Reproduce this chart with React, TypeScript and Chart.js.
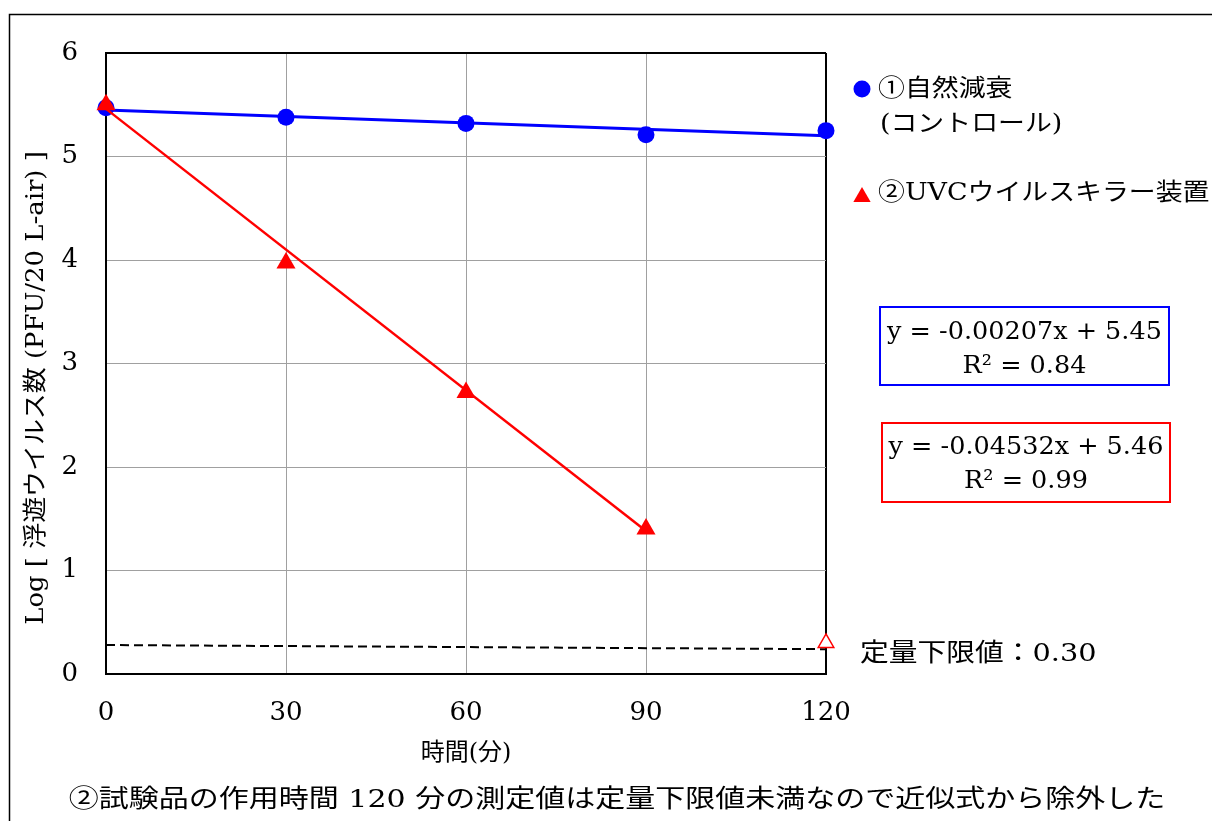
import React, { useEffect, useRef } from "react";
import { Chart, registerables } from "chart.js";

Chart.register(...registerables);

// Measured values (log PFU / 20 L-air) at each sampling time (min)
const controlTimes = [0, 30, 60, 90, 120];
const controlLog = [5.47, 5.38, 5.32, 5.21, 5.25];
const uvcTimes = [0, 30, 60, 90];
const uvcLog = [5.5, 3.97, 2.72, 1.4];
// 120 min result of the UVC unit was below the quantification limit
const uvcBelowLoqTimes = [120];
const uvcBelowLoqLog = [0.3];
// Quantification-limit guide line
const loqLineTimes = [0, 120];
const loqLineLog = [0.28, 0.24];

// Linear fits: [slope, intercept], R², fitted time range
const controlFit = [-0.00207, 5.45];
const controlR2 = 0.84;
const controlFitRange = [0, 120];
const uvcFit = [-0.04532, 5.46];
const uvcR2 = 0.99;
const uvcFitRange = [0, 90];

// Axes
const xTickStep = 30;
const xRange = [0, 120];
const yTickStep = 1;
const yRange = [0, 6];

// Texts
const legendControl = ["①自然減衰", "(コントロール)"];
const legendUvc = "②UVCウイルスキラー装置";
const yTitle = "Log [ 浮遊ウイルス数 (PFU/20 L-air) ]";
const xTitle = "時間(分)";
const loqLabel = "定量下限値：0.30";
const footNote = "②試験品の作用時間 120 分の測定値は定量下限値未満なので近似式から除外した";

const FONT = '"DejaVu Serif", "Noto Sans CJK JP", serif';
const BLUE = "#0000ff";
const RED = "#ff0000";
const GRID = "#a0a0a0";

const W = 1212;
const H = 821;

function fitText(fit: number[]) {
  return `y = ${fit[0]}x + ${fit[1].toFixed(2)}`;
}

function drawText(
  ctx: CanvasRenderingContext2D,
  text: string,
  x: number,
  y: number,
  size: number,
  align: CanvasTextAlign,
  sx = 1,
  rotate = 0
) {
  ctx.save();
  ctx.font = `${size}px ${FONT}`;
  ctx.fillStyle = "#000";
  ctx.textBaseline = "middle";
  ctx.textAlign = align;
  ctx.translate(x, y);
  if (rotate) ctx.rotate(rotate);
  ctx.scale(sx, 1);
  ctx.fillText(text, 0, 0);
  ctx.restore();
}

function triangle(ctx: CanvasRenderingContext2D, x: number, y: number, r: number) {
  ctx.beginPath();
  for (let i = 0; i < 3; i++) {
    const a = (i * 2 * Math.PI) / 3;
    const px = x + Math.sin(a) * r;
    const py = y - Math.cos(a) * r;
    if (i === 0) ctx.moveTo(px, py);
    else ctx.lineTo(px, py);
  }
  ctx.closePath();
}

const decorations = {
  id: "decorations",
  afterDraw(chart: Chart) {
    const ctx = chart.ctx;
    const area = chart.chartArea;

    // outer frame
    ctx.save();
    ctx.strokeStyle = "#000";
    ctx.lineWidth = 1.5;
    ctx.beginPath();
    ctx.moveTo(9.5, H);
    ctx.lineTo(9.5, 14.5);
    ctx.lineTo(W, 14.5);
    ctx.stroke();
    ctx.restore();

    // y axis title
    drawText(ctx, yTitle, 37, 388, 24, "center", 1.08, -Math.PI / 2);

    // legend
    const lx = area.right + 36;
    ctx.save();
    ctx.fillStyle = BLUE;
    ctx.beginPath();
    ctx.arc(lx, 89, 8.5, 0, Math.PI * 2);
    ctx.fill();
    ctx.fillStyle = RED;
    triangle(ctx, lx, 197, 10);
    ctx.fill();
    ctx.restore();
    drawText(ctx, legendControl[0], lx + 16, 90, 24, "left", 1.12);
    drawText(ctx, legendControl[1], lx + 18, 125, 24, "left", 1.12);
    drawText(ctx, legendUvc, lx + 16, 194, 24, "left", 1.12);

    // fit equation boxes
    const boxes = [
      { color: BLUE, x0: 880, y0: 307, x1: 1169, y1: 385, fit: controlFit, r2: controlR2, l1: 332, l2: 366 },
      { color: RED, x0: 882, y0: 423, x1: 1170, y1: 502, fit: uvcFit, r2: uvcR2, l1: 447, l2: 481 },
    ];
    for (const b of boxes) {
      ctx.save();
      ctx.strokeStyle = b.color;
      ctx.lineWidth = 2;
      ctx.strokeRect(b.x0, b.y0, b.x1 - b.x0, b.y1 - b.y0);
      ctx.restore();
      const cx = (b.x0 + b.x1) / 2;
      drawText(ctx, fitText(b.fit), cx, b.l1, 25, "center", 1.02);
      drawText(ctx, `R² = ${b.r2.toFixed(2)}`, cx, b.l2, 25, "center", 1.02);
    }

    // quantification limit label
    drawText(ctx, loqLabel, area.right + 34, 654, 25, "left", 1.15);

    // footnote
    drawText(ctx, footNote, 617, 800, 25, "center", 1.2);
  },
};

export default function App() {
  const ref = useRef<HTMLCanvasElement | null>(null);

  useEffect(() => {
    if (!ref.current) return;
    const edge = (v: number, end: number) => v === end;
    const chart = new Chart(ref.current, {
      type: "scatter",
      data: {
        datasets: [
          {
            label: "UVC",
            data: uvcTimes.map((x, i) => ({ x, y: uvcLog[i] })),
            pointStyle: "triangle",
            pointRadius: 11,
            backgroundColor: RED,
            borderColor: RED,
            borderWidth: 0,
            clip: false,
          },
          {
            label: "UVC < LOQ",
            data: uvcBelowLoqTimes.map((x, i) => ({ x, y: uvcBelowLoqLog[i] })),
            pointStyle: "triangle",
            pointRadius: 9,
            backgroundColor: "#ffffff",
            borderColor: RED,
            borderWidth: 1.5,
            clip: false,
          },
          {
            label: "UVC fit",
            data: uvcFitRange.map((x) => ({ x, y: uvcFit[0] * x + uvcFit[1] })),
            showLine: true,
            pointRadius: 0,
            borderColor: RED,
            borderWidth: 2.5,
            clip: false,
          },
          {
            label: "Control",
            data: controlTimes.map((x, i) => ({ x, y: controlLog[i] })),
            pointStyle: "circle",
            pointRadius: 8.5,
            backgroundColor: BLUE,
            borderColor: BLUE,
            borderWidth: 0,
            clip: false,
          },
          {
            label: "Control fit",
            data: controlFitRange.map((x) => ({ x, y: controlFit[0] * x + controlFit[1] })),
            showLine: true,
            pointRadius: 0,
            borderColor: BLUE,
            borderWidth: 3,
            clip: false,
          },
          {
            label: "LOQ",
            data: loqLineTimes.map((x, i) => ({ x, y: loqLineLog[i] })),
            showLine: true,
            pointRadius: 0,
            borderColor: "#000",
            borderWidth: 2,
            borderDash: [9, 5],
            clip: false,
          },
        ],
      },
      options: {
        animation: false,
        responsive: false,
        devicePixelRatio: 1,
        events: [],
        layout: { padding: { left: 0, top: 53, right: W - 826, bottom: 53 } },
        plugins: {
          legend: { display: false },
          tooltip: { enabled: false },
          title: { display: false },
        },
        scales: {
          x: {
            type: "linear",
            min: xRange[0],
            max: xRange[1],
            ticks: {
              stepSize: xTickStep,
              padding: 24,
              color: "#000",
              font: { family: FONT, size: 26 },
              maxRotation: 0,
            },
            grid: {
              drawTicks: false,
              color: (c: any) => (edge(c.tick?.value, xRange[1]) ? "#000" : GRID),
              lineWidth: (c: any) => (edge(c.tick?.value, xRange[1]) ? 2 : 1),
            },
            border: { color: "#000", width: 2 },
            title: {
              display: true,
              text: xTitle,
              color: "#000",
              font: { family: FONT, size: 24 },
              padding: { top: 0, bottom: 0 },
            },
            afterFit: (s: any) => {
              s.height = 94;
            },
          },
          y: {
            type: "linear",
            min: yRange[0],
            max: yRange[1],
            ticks: {
              stepSize: yTickStep,
              padding: 28,
              color: "#000",
              font: { family: FONT, size: 26 },
            },
            grid: {
              drawTicks: false,
              color: (c: any) => (edge(c.tick?.value, yRange[1]) ? "#000" : GRID),
              lineWidth: (c: any) => (edge(c.tick?.value, yRange[1]) ? 2 : 1),
            },
            border: { color: "#000", width: 2 },
            afterFit: (s: any) => {
              s.width = 106;
            },
          },
        },
      },
      plugins: [decorations],
    });
    return () => chart.destroy();
  }, []);

  return (
    <div style={{ position: "absolute", left: 0, top: 0, width: W, height: H, background: "#fff" }}>
      <canvas ref={ref} width={W} height={H} style={{ display: "block" }} />
    </div>
  );
}
